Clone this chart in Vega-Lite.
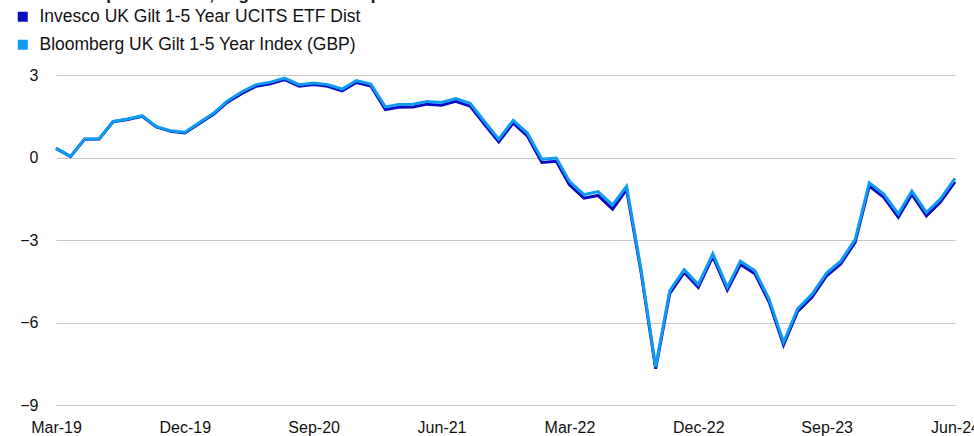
{
  "$schema": "https://vega.github.io/schema/vega-lite/v6.json",
  "width": 899,
  "height": 330,
  "autosize": {"type": "none"},
  "padding": {"left": 56, "top": 75, "right": 19, "bottom": 31},
  "background": "white",
  "config": {
    "font": "Liberation Sans",
    "view": {"stroke": null}
  },
  "title": {
    "text": "Cumulative performance, % growth over the period",
    "anchor": "start",
    "frame": "group",
    "fontSize": 17,
    "fontWeight": "bold",
    "color": "#111111",
    "baseline": "bottom",
    "offset": 4,
    "dx": -46,
    "dy": 17
  },
  "data": {
    "values": [
      {"month": "2019-03-01T00:00", "invesco": 0.33, "bloomberg": 0.34},
      {"month": "2019-04-01T00:00", "invesco": 0.03, "bloomberg": 0.04},
      {"month": "2019-05-01T00:00", "invesco": 0.66, "bloomberg": 0.67},
      {"month": "2019-06-01T00:00", "invesco": 0.67, "bloomberg": 0.68},
      {"month": "2019-07-01T00:00", "invesco": 1.30, "bloomberg": 1.31},
      {"month": "2019-08-01T00:00", "invesco": 1.38, "bloomberg": 1.40},
      {"month": "2019-09-01T00:00", "invesco": 1.50, "bloomberg": 1.52},
      {"month": "2019-10-01T00:00", "invesco": 1.11, "bloomberg": 1.13},
      {"month": "2019-11-01T00:00", "invesco": 0.95, "bloomberg": 0.97},
      {"month": "2019-12-01T00:00", "invesco": 0.89, "bloomberg": 0.92},
      {"month": "2020-01-01T00:00", "invesco": 1.24, "bloomberg": 1.27},
      {"month": "2020-02-01T00:00", "invesco": 1.58, "bloomberg": 1.62},
      {"month": "2020-03-01T00:00", "invesco": 2.01, "bloomberg": 2.06},
      {"month": "2020-04-01T00:00", "invesco": 2.33, "bloomberg": 2.39},
      {"month": "2020-05-01T00:00", "invesco": 2.59, "bloomberg": 2.65},
      {"month": "2020-06-01T00:00", "invesco": 2.68, "bloomberg": 2.74},
      {"month": "2020-07-01T00:00", "invesco": 2.83, "bloomberg": 2.89},
      {"month": "2020-08-01T00:00", "invesco": 2.59, "bloomberg": 2.65},
      {"month": "2020-09-01T00:00", "invesco": 2.65, "bloomberg": 2.71},
      {"month": "2020-10-01T00:00", "invesco": 2.59, "bloomberg": 2.65},
      {"month": "2020-11-01T00:00", "invesco": 2.42, "bloomberg": 2.49},
      {"month": "2020-12-01T00:00", "invesco": 2.73, "bloomberg": 2.80},
      {"month": "2021-01-01T00:00", "invesco": 2.60, "bloomberg": 2.67},
      {"month": "2021-02-01T00:00", "invesco": 1.74, "bloomberg": 1.84},
      {"month": "2021-03-01T00:00", "invesco": 1.83, "bloomberg": 1.93},
      {"month": "2021-04-01T00:00", "invesco": 1.84, "bloomberg": 1.94},
      {"month": "2021-05-01T00:00", "invesco": 1.94, "bloomberg": 2.04},
      {"month": "2021-06-01T00:00", "invesco": 1.90, "bloomberg": 2.00},
      {"month": "2021-07-01T00:00", "invesco": 2.04, "bloomberg": 2.14},
      {"month": "2021-08-01T00:00", "invesco": 1.87, "bloomberg": 1.97},
      {"month": "2021-09-01T00:00", "invesco": 1.20, "bloomberg": 1.30},
      {"month": "2021-10-01T00:00", "invesco": 0.57, "bloomberg": 0.67},
      {"month": "2021-11-01T00:00", "invesco": 1.25, "bloomberg": 1.35},
      {"month": "2021-12-01T00:00", "invesco": 0.79, "bloomberg": 0.89},
      {"month": "2022-01-01T00:00", "invesco": -0.18, "bloomberg": -0.06},
      {"month": "2022-02-01T00:00", "invesco": -0.14, "bloomberg": -0.02},
      {"month": "2022-03-01T00:00", "invesco": -0.99, "bloomberg": -0.87},
      {"month": "2022-04-01T00:00", "invesco": -1.48, "bloomberg": -1.35},
      {"month": "2022-05-01T00:00", "invesco": -1.38, "bloomberg": -1.24},
      {"month": "2022-06-01T00:00", "invesco": -1.88, "bloomberg": -1.72},
      {"month": "2022-07-01T00:00", "invesco": -1.17, "bloomberg": -1.05},
      {"month": "2022-08-01T00:00", "invesco": -4.18, "bloomberg": -4.10},
      {"month": "2022-09-01T00:00", "invesco": -7.68, "bloomberg": -7.62},
      {"month": "2022-10-01T00:00", "invesco": -4.95, "bloomberg": -4.85},
      {"month": "2022-11-01T00:00", "invesco": -4.18, "bloomberg": -4.08},
      {"month": "2022-12-01T00:00", "invesco": -4.72, "bloomberg": -4.62},
      {"month": "2023-01-01T00:00", "invesco": -3.60, "bloomberg": -3.50},
      {"month": "2023-02-01T00:00", "invesco": -4.82, "bloomberg": -4.72},
      {"month": "2023-03-01T00:00", "invesco": -3.89, "bloomberg": -3.77},
      {"month": "2023-04-01T00:00", "invesco": -4.23, "bloomberg": -4.12},
      {"month": "2023-05-01T00:00", "invesco": -5.25, "bloomberg": -5.15},
      {"month": "2023-06-01T00:00", "invesco": -6.82, "bloomberg": -6.72},
      {"month": "2023-07-01T00:00", "invesco": -5.60, "bloomberg": -5.50},
      {"month": "2023-08-01T00:00", "invesco": -5.07, "bloomberg": -4.97},
      {"month": "2023-09-01T00:00", "invesco": -4.30, "bloomberg": -4.20},
      {"month": "2023-10-01T00:00", "invesco": -3.87, "bloomberg": -3.77},
      {"month": "2023-11-01T00:00", "invesco": -3.08, "bloomberg": -2.98},
      {"month": "2023-12-01T00:00", "invesco": -1.04, "bloomberg": -0.92},
      {"month": "2024-01-01T00:00", "invesco": -1.45, "bloomberg": -1.33},
      {"month": "2024-02-01T00:00", "invesco": -2.17, "bloomberg": -2.05},
      {"month": "2024-03-01T00:00", "invesco": -1.34, "bloomberg": -1.22},
      {"month": "2024-04-01T00:00", "invesco": -2.12, "bloomberg": -2.00},
      {"month": "2024-05-01T00:00", "invesco": -1.62, "bloomberg": -1.50},
      {"month": "2024-06-01T00:00", "invesco": -0.89, "bloomberg": -0.76}
    ]
  },
  "encoding": {
    "x": {
      "field": "month",
      "type": "temporal",
      "scale": {"domain": [{"year": 2019, "month": 3, "date": 1}, {"year": 2024, "month": 6, "date": 1}]},
      "axis": {
        "title": null,
        "values": [
          {"year": 2019, "month": 3, "date": 1},
          {"year": 2019, "month": 12, "date": 1},
          {"year": 2020, "month": 9, "date": 1},
          {"year": 2021, "month": 6, "date": 1},
          {"year": 2022, "month": 3, "date": 1},
          {"year": 2022, "month": 12, "date": 1},
          {"year": 2023, "month": 9, "date": 1},
          {"year": 2024, "month": 6, "date": 1}
        ],
        "format": "%b-%y",
        "labelFontSize": 16,
        "labelColor": "#111111",
        "labelPadding": 14,
        "labelFlush": false,
        "labelOverlap": false,
        "labelBound": false,
        "ticks": false,
        "domain": false,
        "grid": false
      }
    }
  },
  "layer": [
    {
      "mark": {"type": "line", "strokeWidth": 3, "strokeJoin": "miter"},
      "encoding": {
        "y": {
          "field": "invesco",
          "type": "quantitative",
          "scale": {"domain": [-9, 3], "nice": false, "zero": false},
          "axis": {
            "title": null,
            "values": [-9, -6, -3, 0, 3],
            "labelFontSize": 16,
            "labelColor": "#111111",
            "labelPadding": 18,
            "ticks": false,
            "domain": false,
            "grid": true,
            "gridColor": "#c8c8c8",
            "gridWidth": 1
          }
        },
        "color": {
          "datum": "Invesco UK Gilt 1-5 Year UCITS ETF Dist",
          "type": "nominal",
          "scale": {
            "domain": ["Invesco UK Gilt 1-5 Year UCITS ETF Dist", "Bloomberg UK Gilt 1-5 Year Index (GBP)"],
            "range": ["#0b0bc4", "#0f9bf2"]
          },
          "legend": {
            "title": null,
            "orient": "none",
            "legendX": -42,
            "legendY": -67,
            "direction": "vertical",
            "symbolType": "square",
            "symbolSize": 100,
            "symbolStrokeWidth": 0,
            "symbolOpacity": 1,
            "labelFontSize": 17.5,
            "labelColor": "#111111",
            "labelOffset": 8,
            "labelLimit": 500,
            "rowPadding": 9,
            "padding": 0,
            "encode": {
              "symbols": {
                "update": {
                  "fill": {"scale": "color", "field": "value"},
                  "fillOpacity": {"value": 1},
                  "strokeWidth": {"value": 0}
                }
              }
            }
          }
        }
      }
    },
    {
      "mark": {"type": "line", "strokeWidth": 3, "strokeJoin": "miter"},
      "encoding": {
        "y": {"field": "bloomberg", "type": "quantitative"},
        "color": {"datum": "Bloomberg UK Gilt 1-5 Year Index (GBP)", "type": "nominal"}
      }
    }
  ]
}
